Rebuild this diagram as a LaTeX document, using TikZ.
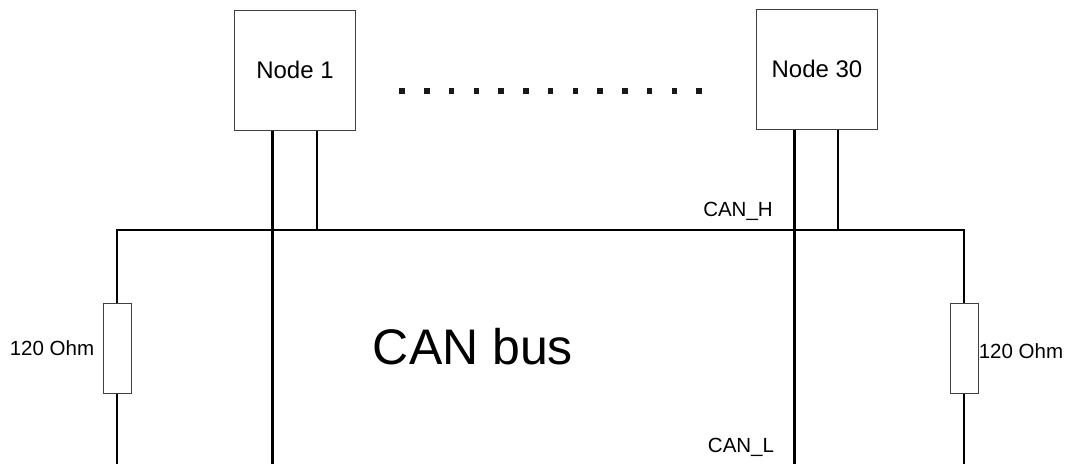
\documentclass[tikz,border=0pt]{standalone}
\usepackage{fontspec}
\setmainfont{Liberation Sans}
\usepackage{tikz}
\usetikzlibrary{calc,positioning}
\tikzset{
  box/.style={draw=black!75, line width=1pt, minimum width=121pt, minimum
  height=120pt, text centered, font=\fontsize{24}{25}\selectfont},
  res/.style={draw=black!75, line width=1pt, minimum width=28pt, minimum
  height=90pt, inner sep=0pt},
  lbl/.style={inner sep=0pt, font=\fontsize{20.5}{21}\selectfont},
  wire/.style={line width=2pt},
  thickwire/.style={line width=3pt},
  dotbox/.style={fill=black!90, minimum size=5.5pt, inner sep=0pt}
}
\begin{document}
\begin{tikzpicture}[x=1pt,y=-1pt]
			\useasboundingbox (0,0) rectangle (1069,464);
			\node (A) [box] at (295,70) {Node 1};
			\node (B) [box] at (817,69) {Node 30};
			\node (R) [res] at (117,348) {};
			\node (S) [res] at (964,348) {};
			\foreach \i in {0,...,12}
				\node[dotbox] (D\i) at (402+24.75*\i,91) {};
			\coordinate (H1) at (117,230);
			\coordinate (H2) at (964,230);
			\coordinate (A1) at (272,464);
			\coordinate (A2) at (317,230);
			\coordinate (B1) at (794,464);
			\coordinate (B2) at (838,230);
			\coordinate (L1) at (117,464);
			\coordinate (L2) at (964,464);
			\draw[wire] (R.north) -- (H1) -- (H2) -- (S.north);
			\draw[wire] (R.south) -- (L1);
			\draw[wire] (S.south) -- (L2);
			\draw[thickwire] (A.south -| A1) -- (A1);
			\draw[wire] (A.south -| A2) -- (A2);
			\draw[thickwire] (B.south -| B1) -- (B1);
			\draw[wire] (B.south -| B2) -- (B2);
			\node (H) [lbl] at (738,211) {CAN\_H};
			\node (L) [lbl] at (741,447) {CAN\_L};
			\node (O) [lbl] at (52,348) {120 Ohm};
			\node (P) [lbl] at (1021,351) {120 Ohm};
			\node (C) [inner sep=0pt, font=\fontsize{50}{52}\selectfont] at
			(473,347) {CAN bus};
\end{tikzpicture}
\end{document}
